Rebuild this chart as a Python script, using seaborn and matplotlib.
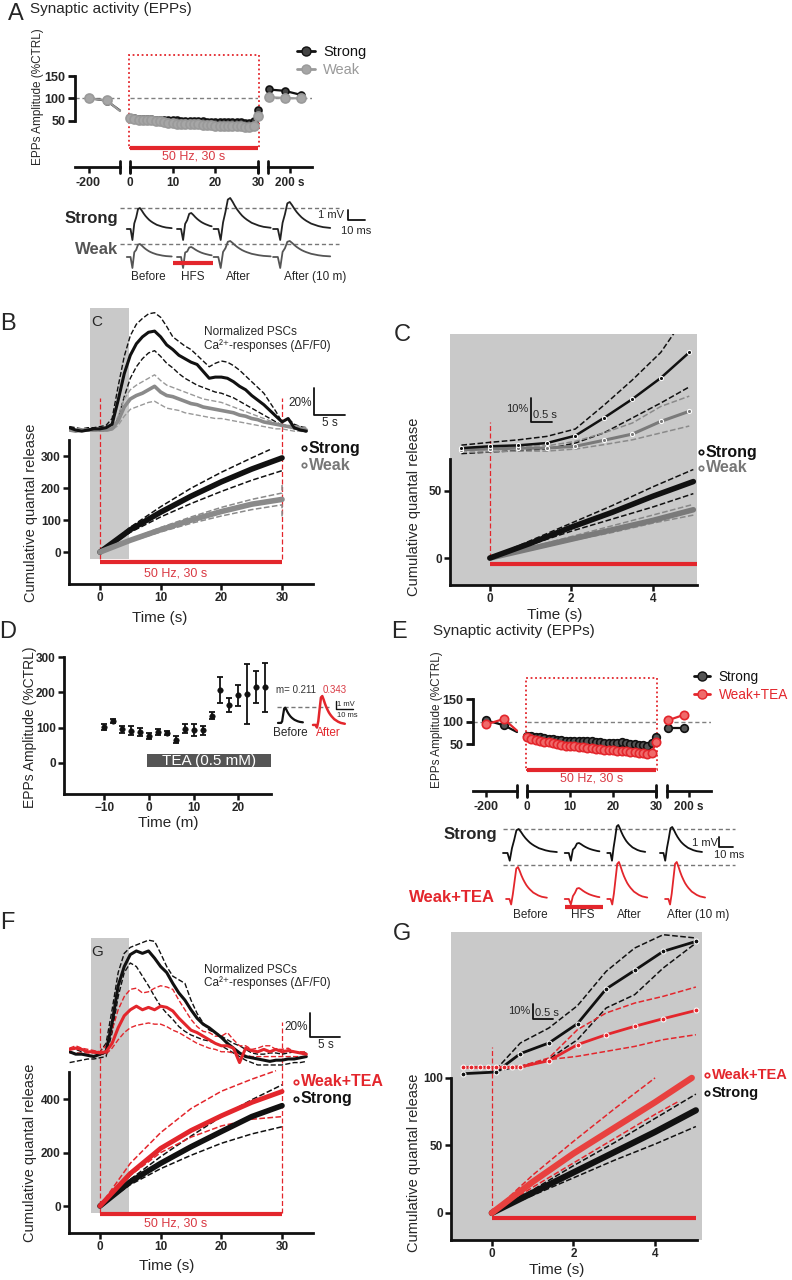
# Recreate multi-panel figure (EPPs / cumulative quantal release)
import matplotlib
matplotlib.use('Agg')
import matplotlib.pyplot as plt
from matplotlib.lines import Line2D
from matplotlib.patches import Rectangle
import seaborn as sns

sns.set_style('ticks')
plt.rcParams['font.family'] = ['Liberation Sans', 'DejaVu Sans']

BLACK = '#111111'
GREY = '#8a8a8a'
RED = '#e3262c'
RED_T = '#d93a44'
BG = '#c9c9c9'

# ---------------- data ----------------
# A / E : EPP amplitude (%CTRL), broken time axis
seg1_t = [-200, -160, -130]
seg2_t = list(range(31))
seg3_t = [152, 188, 225]

a_strong_1 = [101, 95, 73]
a_weak_1 = [100, 96, 72]
a_strong_2 = [57, 56, 55, 55, 54, 54, 53, 53, 52, 52, 51, 51, 50, 50, 50, 50,
              49, 49, 48, 48, 48, 48, 48, 47, 47, 47, 47, 46, 46, 50, 75]
a_weak_2 = [57, 55, 53, 53, 52, 51, 50, 49, 47, 46, 45, 44, 43, 43, 42, 42,
            42, 41, 40, 40, 39, 39, 39, 38, 38, 38, 38, 37, 37, 38, 60]
a_strong_3 = [120, 117, 108]
a_weak_3 = [103, 101, 100]

e_strong_1 = [103, 92, 77]
e_tea_1 = [94, 106, 80]
e_strong_2 = [68, 68, 67, 65, 63, 62, 61, 60, 59, 58, 58, 57, 57, 56, 56, 56,
              55, 54, 53, 53, 53, 53, 54, 52, 51, 50, 49, 48, 47, 52, 67]
e_tea_2 = [66, 62, 60, 57, 55, 54, 52, 50, 49, 47, 46, 45, 44, 43, 42, 41,
           40, 39, 38, 37, 36, 35, 34, 34, 33, 32, 31, 30, 29, 30, 55]
e_strong_3 = [85, 85]
e_tea_3 = [103, 115]

# EPP example traces (mV), normalised shape + stimulus artefact
epp_shape = [0, 0, 0, 0, 0.1, 0.55, 0.95, 1.0, 0.88, 0.74, 0.62, 0.52, 0.43,
             0.36, 0.3, 0.25, 0.2, 0.17, 0.14, 0.11, 0.09, 0.07, 0.06, 0.05, 0.04]
stim_artifact = [0, 0, 0, -1.1, 0.35, 0, 0, 0, 0, 0, 0, 0, 0,
                 0, 0, 0, 0, 0, 0, 0, 0, 0, 0, 0, 0]
trace_labels = ['Before', 'HFS', 'After', 'After (10 m)']
a_strong_amp = [2.1, 1.6, 3.1, 2.7]
a_weak_amp = [1.3, 1.0, 1.6, 1.6]
e_strong_amp = [2.4, 1.0, 2.8, 2.6]
e_tea_amp = [3.2, 1.1, 3.7, 3.7]
d_trace_amp = [1.9, 3.6]

# B : normalized PSC traces (%), t = -5..34 s
b_t = list(range(-5, 35))
b_strong = [2, 0, -1, 0, 1, 1, 2, 5, 26, 49, 65, 75, 81, 85, 86, 81, 74, 70, 65, 62,
            59, 57, 51, 45, 46, 46, 45, 42, 38, 35, 30, 26, 22, 17, 12, 7, 10, 2, 0, -1]
b_strong_up = [3, 2, 1, 2, 2, 3, 4, 10, 38, 64, 82, 92, 97, 101, 102, 98, 90, 81, 77, 73,
               70, 65, 60, 55, 58, 60, 59, 56, 52, 47, 42, 37, 32, 24, 16, 7, 10, 5, 3, 2]
b_strong_lo = [2, 1, 0, -1, 0, 1, 1, 1, 10, 29, 45, 55, 62, 67, 69, 64, 58, 54, 49, 45,
               42, 39, 37, 35, 33, 32, 30, 28, 25, 22, 19, 16, 13, 10, 7, 4, 3, 1, 0, -1]
b_weak = [0, -1, 0, 0, 0, 0, 0, 1, 8, 20, 27, 30, 32, 35, 38, 33, 30, 29, 27, 25,
          23, 22, 20, 19, 18, 17, 16, 15, 13, 12, 10, 9, 7, 6, 5, 4, 3, 2, 1, 0]
b_weak_up = [1, 1, 1, 1, 1, 1, 1, 2, 12, 27, 35, 39, 42, 45, 48, 43, 39, 37, 35, 33,
             31, 29, 27, 26, 25, 24, 22, 20, 18, 16, 14, 12, 10, 8, 6, 5, 4, 4, 3, 2]
b_weak_lo = [-1, -1, -1, -1, -1, -1, -1, 0, 4, 12, 18, 20, 22, 24, 25, 22, 19, 18, 17, 15,
             14, 13, 12, 11, 10, 10, 9, 8, 7, 6, 5, 4, 3, 2, 1, 1, 0, -1, -1, -2]

# B : cumulative quantal release
cum_t = [0, 5, 10, 15, 20, 25, 30]
b_cum_strong = [0, 70, 125, 175, 220, 260, 295]
b_cum_strong_up_t = [0, 5, 10, 15, 20, 25, 28]
b_cum_strong_up = [0, 78, 142, 200, 250, 295, 321]
b_cum_strong_lo = [0, 62, 110, 152, 190, 225, 255]
b_cum_weak = [0, 37, 70, 100, 127, 150, 165]
b_cum_weak_ci_t = [0, 5, 10, 15, 20, 25, 30, 30]
b_cum_weak_up = [0, 40, 77, 110, 140, 165, 185, 210]
b_cum_weak_lo = [0, 33, 63, 90, 113, 133, 148, 105]

# C : zoom 0-5 s
c_trace_t = [-0.7, 0, 0.7, 1.4, 2.1, 2.8, 3.5, 4.2, 4.9]
c_strong = [0.4, 1.2, 1.6, 2.6, 5.8, 13.5, 21.7, 30.9, 42]
c_strong_up = [1.7, 2.9, 4, 5.5, 8.7, 19, 30, 42, 60]
c_strong_lo = [-2, -1.3, -0.7, 0, 2.6, 7, 13.5, 20, 27]
c_weak = [-0.3, 0, 0.4, 0.4, 1.2, 3.8, 6.5, 12, 16.4]
c_weak_up = [0.4, 0.9, 1.2, 1.4, 3.3, 7, 11.3, 18.5, 23]
c_weak_lo = [-1.4, -1.2, -0.9, -0.9, 0, 1.9, 4, 7, 10]
c_cum_t = [0, 1, 2, 3, 4, 5]
c_cum_strong = [0, 11, 23, 34, 46, 57]
c_cum_strong_up = [0, 13, 26, 39, 53, 66]
c_cum_strong_lo = [0, 10, 20, 29, 38, 48]
c_cum_weak = [0, 7, 14, 21, 28, 36]
c_cum_weak_up = [0, 8, 16, 24, 32, 40]
c_cum_weak_lo = [0, 6, 13, 19, 26, 32]

# D : TEA time course
d_t = [-10, -8, -6, -4, -2, 0, 2, 4, 6, 8, 10, 12, 14, 16, 18, 20, 22, 24, 26]
d_mean = [102, 119, 95, 91, 88, 76, 88, 84, 66, 97, 93, 93, 134, 207, 164, 191, 196, 216, 214]
d_err = [9, 5, 10, 13, 12, 9, 8, 6, 9, 13, 16, 13, 10, 37, 20, 31, 85, 45, 70]

# F : normalized PSC traces (%), t = -5..34 s
f_strong = [1, -1, -1, -2, -3, -1, 1, 25, 56, 72, 82, 85, 83, 85, 79, 72, 67, 58, 50, 44,
            36, 29, 24, 21, 17, 13, 8, 4, 0, -3, -4, -5, -6, -7, -6, -6, -5, -5, -4, -3]
f_strong_up = [4, 3, 1, 1, 1, 1, 8, 36, 67, 83, 88, 90, 92, 94, 93, 83, 72, 64, 61, 58,
               44, 33, 25, 19, 17, 14, 11, 8, 6, 3, 0, -1, -1, 0, 0, -1, 0, 1, 0, 0]
f_strong_lo = [-8, -7, -6, -5, -5, -4, -3, 17, 47, 67, 75, 72, 64, 56, 47, 39, 33, 28, 22, 18,
               15, 13, 11, 10, 8, 6, 3, 0, -3, -6, -8, -10, -10, -10, -10, -10, -9, -8, -8, -7]
f_tea = [3, 4, 3, 1, 1, 0, 1, 8, 21, 31, 36, 39, 36, 38, 36, 39, 38, 35, 29, 24,
         19, 17, 14, 11, 8, 6, 6, 4, -8, 4, 2, 1, 3, 1, 3, 1, 2, 1, 0, -1]
f_tea_up = [4, 6, 4, 3, 2, 1, 6, 19, 36, 47, 53, 54, 50, 51, 54, 56, 55, 53, 44, 36,
            28, 22, 18, 17, 14, 14, 17, 11, 6, 6, 3, 4, 6, 6, 3, 3, 4, 1, 1, 1]
f_tea_lo = [0, 0, 0, 0, 0, -1, -1, 4, 11, 17, 21, 23, 24, 25, 24, 24, 22, 19, 17, 14,
            11, 8, 6, 4, 3, 1, 1, 0, -1, -2, -3, -3, -3, -3, -3, -3, -3, -3, -3, -3]

f_cum_strong = [0, 91, 160, 222, 279, 335, 376]
f_cum_strong_up = [0, 100, 185, 262, 335, 398, 454]
f_cum_strong_lo = [0, 80, 140, 190, 235, 270, 297]
f_cum_tea = [0, 122, 216, 283, 338, 388, 429]
f_cum_tea_up_t = [0, 5, 10, 15, 20, 25, 29]
f_cum_tea_up = [0, 160, 275, 365, 430, 475, 507]
f_cum_tea_lo = [0, 115, 200, 258, 300, 325, 335]

# G : zoom 0-5 s
g_trace_t = [-0.7, 0.1, 0.7, 1.4, 2.1, 2.8, 3.5, 4.2, 5.0]
g_strong = [-3.8, -2.7, 9.6, 16.7, 29.6, 52.7, 65.1, 77.8, 84.4]
g_ci_t = [0.1, 0.7, 1.4, 2.1, 2.8, 3.5, 4.2, 5.0]
g_strong_up = [-1.1, 16.7, 26.7, 41.6, 64.4, 80, 88.9, 86.7]
g_strong_lo = [-2.2, 1.1, 6, 18.9, 40, 48.9, 66.7, 83.3]
g_tea_t = [-0.7, -0.5, -0.3, -0.1, 0.1, 0.3, 0.5, 0.7, 1.4, 2.1, 2.8, 3.5, 4.2, 5.0]
g_tea = [0.4, 0.4, 0.4, 0.4, 0.4, 0.4, 0.5, 0.7, 4.9, 15.6, 22.2, 27.8, 32.9, 38.4]
g_tea_up = [0, 1.1, 6.7, 25.6, 36.7, 43.3, 47.8, 54]
g_tea_lo = [0, 0, 5.6, 7.8, 11.1, 14.4, 18.9, 22.2]
g_cum_t = [0, 1, 2, 3, 4, 5]
g_cum_strong = [0, 15, 30, 45, 60, 76]
g_cum_strong_up = [0, 17, 35, 52, 70, 88]
g_cum_strong_lo = [0, 13, 26, 39, 51, 64]
g_cum_tea_t = [0, 1, 2, 3, 4, 4.9]
g_cum_tea = [0, 23, 44, 63, 82, 100]
g_cum_tea_up_t = [0, 1, 2, 3, 4]
g_cum_tea_up = [0, 28, 53, 77, 100]
g_cum_tea_lo_t = [0, 1, 2, 3, 4, 4.6]
g_cum_tea_lo = [0, 19, 37, 55, 73, 83]

# ---------------- figure helpers ----------------
W, H = 792, 1280
fig = plt.figure(figsize=(7.92, 12.8), dpi=100)


def add_ax(x0, y0, x1, y1):
    return fig.add_axes([x0 / W, 1 - y1 / H, (x1 - x0) / W, (y1 - y0) / H])


def ftext(x, y, s, **kw):
    kw.setdefault('va', 'center')
    fig.text(x / W, 1 - y / H, s, **kw)


def line(ax, x, y, color, lw=1.0, ls='-', **kw):
    sns.lineplot(x=x, y=y, ax=ax, color=color, lw=lw, linestyle=ls,
                 estimator=None, sort=False, legend=False, **kw)


def bold_ticks(ax, size=8.5):
    for lab in ax.get_xticklabels() + ax.get_yticklabels():
        lab.set_fontweight('bold')
        lab.set_fontsize(size)


def style_main(ax):
    ax.patch.set_alpha(0)
    for s in ['top', 'right']:
        ax.spines[s].set_visible(False)
    for s in ['left', 'bottom']:
        ax.spines[s].set_linewidth(2)
        ax.spines[s].set_color(BLACK)
    ax.tick_params(width=1.8, length=4, color=BLACK, pad=2)
    ax.set_xlabel('')
    ax.set_ylabel('')


def draw_traces(ax, starts, base, amps, dts, lens, color, lw=1.3, art=1.0):
    for x0, amp, dt, n in zip(starts, amps, dts, lens):
        xs = [x0 + i * dt for i in range(n)]
        ys = [base + amp * e + art * a for e, a in zip(epp_shape[:n], stim_artifact[:n])]
        line(ax, xs, ys, color, lw=lw)


def circle_legend(x, y, labels, colors, size=11.5, dy=17):
    for i, (lab, col) in enumerate(zip(labels, colors)):
        fig.add_artist(Line2D([(x + 3) / W], [1 - (y + i * dy) / H], marker='o', ms=3.2,
                              mfc='white', mec=col, mew=1.2, ls='none'))
        ftext(x + 8, y + i * dy, lab, color=col, fontsize=size, fontweight='bold')


# ---------------- A / E ----------------
def epp_panel(px, ytop, ybot, ylim, box_lo, s_series, w_series, s_style, w_style, line_cols):
    xlims = [(-230, -130), (0, 30), (150, 250)]
    xt = [[-200], [0, 10, 20, 30], [200]]
    xtl = [['-200'], ['0', '10', '20', '30'], ['200 s']]
    caps = [[-130], [0, 30], [150]]
    axs = []
    for (x0, x1), xl, t, tl, cp in zip(px, xlims, xt, xtl, caps):
        ax = add_ax(x0, ytop, x1, ybot)
        style_main(ax)
        ax.set_xlim(xl)
        ax.set_ylim(ylim)
        ax.spines['left'].set_visible(False)
        ax.set_yticks([])
        ax.set_xticks(t)
        ax.set_xticklabels(tl)
        ax.tick_params(axis='x', length=4, pad=3)
        for c in cp:
            ax.plot([c, c], [-0.05, 0.05], transform=ax.get_xaxis_transform(),
                    color=BLACK, lw=2, clip_on=False)
        ax.axhline(100, color='#808080', lw=1, ls=(0, (3, 2)), zorder=0)
        bold_ticks(ax)
        axs.append(ax)
    a1, a2, a3 = axs
    a1.spines['left'].set_visible(True)
    a1.spines['left'].set_bounds(50, 150)
    a1.set_yticks([50, 100, 150])
    a1.tick_params(axis='y', length=5, width=2)
    bold_ticks(a1, 9)
    # red stimulus box and bar
    a2.add_patch(Rectangle((-0.3, box_lo), 30.6, ylim[1] - box_lo, fill=False,
                           ec=RED, lw=1.3, ls=(0, (1, 1.5)), clip_on=False))
    a2.plot([0, 30], [box_lo, box_lo], color=RED, lw=3, solid_capstyle='butt', clip_on=False)
    a2.text(15, box_lo - 20, '50 Hz, 30 s', color=RED_T, fontsize=9, ha='center', va='center')
    # data
    ts = [seg1_t, seg2_t, seg3_t]
    for ser, st, lc in zip([s_series, w_series], [s_style, w_style], line_cols):
        for ax, t, y, k in zip(axs, ts, ser, range(3)):
            mk = [0, 1] if k == 0 else None
            line(ax, t[:len(y)], y, lc, lw=1.6, marker='o', markevery=mk,
                 ms=st['ms'], mfc=st['mfc'], mec=st['mec'], mew=1.2, clip_on=False)
    return axs


def epp_legend(x, y, labels, styles, size=10.5):
    handles = [Line2D([], [], color=c, lw=2, marker='o', ms=6.5, mfc=f, mec=c) for c, f in styles]
    fig.legend(handles=handles, labels=labels, loc='upper left',
               bbox_to_anchor=(x / W, 1 - y / H), frameon=False, fontsize=size,
               handlelength=1.2, handletextpad=0.6, labelspacing=0.3, borderpad=0,
               borderaxespad=0, labelcolor=[c for c, f in styles])


# Panel A
ftext(8, 14, 'A', fontsize=17)
ftext(30, 9, 'Synaptic activity (EPPs)', fontsize=11)
epp_panel([(75, 120), (130, 258), (268, 312)], 55, 167, (-53, 197), -10,
          [a_strong_1, a_strong_2, a_strong_3], [a_weak_1, a_weak_2, a_weak_3],
          dict(ms=5, mfc='#444444', mec=BLACK), dict(ms=6.5, mfc='#a6a6a6', mec='#9a9a9a'),
          [BLACK, '#9a9a9a'])
ftext(38, 97, 'EPPs Amplitude (%CTRL)', rotation=90, fontsize=8.5, ha='center')
epp_legend(297, 45, ['Strong', 'Weak'], [(BLACK, '#444444'), ('#9a9a9a', '#a6a6a6')])

# A traces
axAt = add_ax(120, 195, 370, 285)
axAt.set_xlim(0, 147)
axAt.set_ylim(0, 9)
axAt.axis('off')
axAt.plot([0, 129], [7.7, 7.7], color='#777777', lw=1, ls=(0, (3, 2)))
axAt.plot([0, 129], [4.1, 4.1], color='#777777', lw=1, ls=(0, (3, 2)))
draw_traces(axAt, [4, 33.5, 55, 90], 5.6, a_strong_amp, [1.1, 1.2, 1.4, 1.4], [25, 18, 25, 25], '#222222')
draw_traces(axAt, [4, 33.5, 55, 90], 2.8, a_weak_amp, [1.1, 1.2, 1.4, 1.4], [25, 18, 25, 25], '#555555')
axAt.plot([134, 134, 144], [7.5, 6.5, 6.5], color=BLACK, lw=1.3)
axAt.text(132, 7.0, '1 mV', fontsize=8, ha='right', va='center')
axAt.text(139, 5.4, '10 ms', fontsize=8, ha='center', va='center')
axAt.plot([31, 54.7], [2.2, 2.2], color=RED, lw=3, solid_capstyle='butt')
for xx, lab in zip([16.5, 43, 69.4, 114.7], trace_labels):
    axAt.text(xx, 0.8, lab, fontsize=8.5, ha='center', va='center')
ftext(118, 218, 'Strong', fontsize=12, fontweight='bold', ha='right')
ftext(118, 250, 'Weak', fontsize=12, fontweight='bold', ha='right', color='#555555')

# ---------------- B ----------------
def cum_panel(rect, xlim, ylim, spine_top, xticks, yticks, twin_ylim):
    ax = add_ax(*rect)
    style_main(ax)
    ax.set_xlim(xlim)
    ax.set_ylim(ylim)
    ax.spines['left'].set_bounds(ylim[0], spine_top)
    ax.set_xticks(xticks)
    ax.set_yticks(yticks)
    bold_ticks(ax, 8.5)
    tw = ax.twinx()
    tw.set_ylim(twin_ylim)
    tw.axis('off')
    return ax, tw


axB, twB = cum_panel((69, 305, 313, 584), (-5.1, 35.1), (-100, 774), 350,
                     [0, 10, 20, 30], [0, 100, 200, 300], (-133.9, 108.7))
axB.fill_between([-1.6, 4.8], -22, 765, color=BG, lw=0, zorder=0)
for xv in [0, 30]:
    axB.plot([xv, xv], [-22, 483], color=RED, lw=0.9, ls=(0, (4, 2)), zorder=1)
axB.plot([0, 30], [-31, -31], color=RED, lw=3, solid_capstyle='butt')
axB.text(12.5, -66, '50 Hz, 30 s', color=RED_T, fontsize=9, ha='center', va='center')
line(axB, b_cum_strong_up_t, b_cum_strong_up, BLACK, lw=1.1, ls='--')
line(axB, cum_t, b_cum_strong_lo, BLACK, lw=1.1, ls='--')
line(axB, cum_t, b_cum_strong, BLACK, lw=4)
line(axB, b_cum_weak_ci_t, b_cum_weak_up, GREY, lw=1.1, ls='--')
line(axB, b_cum_weak_ci_t, b_cum_weak_lo, GREY, lw=1.1, ls='--')
line(axB, cum_t, b_cum_weak, GREY, lw=4)
line(twB, b_t, b_strong_up, BLACK, lw=1.0, ls='--')
line(twB, b_t, b_strong_lo, BLACK, lw=1.0, ls='--')
line(twB, b_t, b_weak_up, '#999999', lw=1.0, ls='--')
line(twB, b_t, b_weak_lo, '#999999', lw=1.0, ls='--')
line(twB, b_t, b_weak, GREY, lw=2.6)
line(twB, b_t, b_strong, BLACK, lw=2.2)
twB.plot([35.3, 35.3, 40.3], [36.5, 13, 13], color=BLACK, lw=1.3, clip_on=False)
twB.text(34.9, 23.5, '20%', fontsize=8.5, ha='right', va='center')
twB.text(37.8, 6, '5 s', fontsize=8.5, ha='center', va='center')
ftext(8, 324, 'B', fontsize=17, ha='center')
ftext(97, 322, 'C', fontsize=11, ha='center')
ftext(204, 332, 'Normalized PSCs', fontsize=8.5)
ftext(204, 346, 'Ca²⁺-responses (ΔF/F0)', fontsize=8.5)
ftext(31, 513, 'Cumulative quantal release', rotation=90, fontsize=10.5, ha='center')
ftext(160, 618, 'Time (s)', fontsize=11, ha='center')
circle_legend(301, 448, ['Strong', 'Weak'], [BLACK, '#777777'], dy=17)

# ---------------- C ----------------
axC, twC = cum_panel((450, 334, 697, 585), (-0.98, 5.09), (-20.1, 167), 73.9,
                     [0, 2, 4], [0, 50], (-59.1, 50))
axC.set_facecolor(BG)
axC.patch.set_alpha(1)
axC.plot([0, 0], [0, 101.5], color=RED, lw=0.9, ls=(0, (4, 2)))
axC.plot([0, 5.09], [-4.5, -4.5], color=RED, lw=3, solid_capstyle='butt')
line(axC, c_cum_t, c_cum_strong_up, BLACK, lw=1.1, ls='--')
line(axC, c_cum_t, c_cum_strong_lo, BLACK, lw=1.1, ls='--')
line(axC, c_cum_t, c_cum_weak_up, '#888888', lw=1.1, ls='--')
line(axC, c_cum_t, c_cum_weak_lo, '#888888', lw=1.1, ls='--')
line(axC, c_cum_t, c_cum_weak, '#7a7a7a', lw=4)
line(axC, c_cum_t, c_cum_strong, BLACK, lw=4)
line(twC, c_trace_t, c_strong_up, BLACK, lw=1.1, ls='--')
line(twC, c_trace_t, c_strong_lo, BLACK, lw=1.1, ls='--')
line(twC, c_trace_t, c_weak_up, '#8a8a8a', lw=1.1, ls='--')
line(twC, c_trace_t, c_weak_lo, '#8a8a8a', lw=1.1, ls='--')
line(twC, c_trace_t, c_weak, '#7a7a7a', lw=2.2, marker='o', ms=3)
line(twC, c_trace_t, c_strong, BLACK, lw=1.8, marker='o', ms=3)
twC.plot([1.0, 1.0, 1.52], [22, 11.7, 11.7], color=BLACK, lw=1.3)
twC.text(0.95, 17.4, '10%', fontsize=8, ha='right', va='center')
twC.text(1.05, 12.8, '0.5 s', fontsize=8, ha='left', va='bottom')
ftext(402, 335, 'C', fontsize=17, ha='center')
ftext(414, 507, 'Cumulative quantal release', rotation=90, fontsize=10.5, ha='center')
ftext(555, 615, 'Time (s)', fontsize=11, ha='center')
circle_legend(698, 452, ['Strong', 'Weak'], [BLACK, '#777777'], dy=16)

# ---------------- D ----------------
axD = add_ax(64, 657, 271, 794)
style_main(axD)
axD.set_xlim(-19, 27.3)
axD.set_ylim(-88, 300)
axD.set_xticks([-10, 0, 10, 20])
axD.set_yticks([0, 100, 200, 300])
bold_ticks(axD, 8.5)
axD.add_patch(Rectangle((-0.5, -12), 27.8, 37, color='#555555', lw=0, clip_on=False))
axD.text(13.4, 6.5, 'TEA (0.5 mM)', color='white', fontsize=11, ha='center', va='center')
axD.errorbar(d_t, d_mean, yerr=d_err, fmt='none', ecolor=BLACK, elinewidth=1.3, capsize=2,
             capthick=1.3, clip_on=False)
sns.scatterplot(x=d_t, y=d_mean, ax=axD, color=BLACK, s=16, edgecolor=BLACK, clip_on=False, legend=False)
axD.set_xlabel('')
axD.set_ylabel('')
ftext(8, 632, 'D', fontsize=17, ha='center')
ftext(30, 727, 'EPPs Amplitude (%CTRL)', rotation=90, fontsize=10, ha='center')
ftext(168, 823, 'Time (m)', fontsize=11, ha='center')

axDi = add_ax(270, 680, 365, 745)
axDi.set_xlim(0, 55.9)
axDi.set_ylim(0, 8.1)
axDi.axis('off')
axDi.plot([4, 35], [4.75, 4.75], color='#777777', lw=1, ls=(0, (3, 2)))
draw_traces(axDi, [4.7], 2.75, d_trace_amp[:1], [0.61], [25], BLACK, lw=1.6, art=0)
draw_traces(axDi, [25.3], 2.5, d_trace_amp[1:], [0.78], [25], RED, lw=1.8, art=0.3)
axDi.plot([38.8, 38.8, 48.8], [5.5, 4.5, 4.5], color=BLACK, lw=1)
axDi.text(39.6, 5.0, '1 mV', fontsize=5.5, ha='left', va='center')
axDi.text(39.3, 3.7, '10 ms', fontsize=5.5, ha='left', va='center')
ftext(276, 690, 'm= 0.211', fontsize=7, color='#333333')
ftext(323, 690, '0.343', fontsize=7, color=RED_T)
ftext(290, 733, 'Before', fontsize=8.5, ha='center')
ftext(328, 733, 'After', fontsize=8.5, ha='center', color=RED)

# ---------------- E ----------------
ftext(399, 632, 'E', fontsize=17, ha='center')
ftext(433, 631, 'Synaptic activity (EPPs)', fontsize=11)
epp_panel([(473, 517), (527, 656), (667, 711)], 678, 791, (-54, 197), -7,
          [e_strong_1, e_strong_2, e_strong_3], [e_tea_1, e_tea_2, e_tea_3],
          dict(ms=5.5, mfc='#555555', mec=BLACK), dict(ms=6, mfc='#f06a6a', mec=RED),
          [BLACK, RED])
ftext(437, 720, 'EPPs Amplitude (%CTRL)', rotation=90, fontsize=8.5, ha='center')
epp_legend(694, 670, ['Strong', 'Weak+TEA'], [(BLACK, '#555555'), (RED, '#f06a6a')], size=9.8)

axEt = add_ax(495, 815, 745, 925)
axEt.set_xlim(0, 147)
axEt.set_ylim(0, 11)
axEt.axis('off')
axEt.plot([4.7, 141], [9.6, 9.6], color='#777777', lw=1, ls=(0, (3, 2)))
axEt.plot([4.7, 141], [6.0, 6.0], color='#777777', lw=1, ls=(0, (3, 2)))
draw_traces(axEt, [4.7, 41, 66, 97], 7.2, e_strong_amp, [1.32, 1.2, 0.93, 1.03], [25, 18, 25, 25],
            BLACK, art=0.7)
draw_traces(axEt, [6.5, 41, 66, 100], 2.6, e_tea_amp, [1.0, 1.2, 0.98, 0.98], [25, 18, 25, 25],
            RED, art=0.5)
axEt.plot([132, 132, 140], [8.8, 7.8, 7.8], color=BLACK, lw=1.3)
axEt.text(131, 8.2, '1 mV', fontsize=8, ha='right', va='center')
axEt.text(137.6, 7.0, '10 ms', fontsize=8, ha='center', va='center')
axEt.plot([41, 63.5], [1.8, 1.8], color=RED, lw=3, solid_capstyle='butt')
for xx, lab in zip([20.6, 51.8, 78.8, 119.4], trace_labels):
    axEt.text(xx, 1.0, lab, fontsize=8.5, ha='center', va='center')
ftext(497, 835, 'Strong', fontsize=12, fontweight='bold', ha='right')
ftext(495, 897, 'Weak+TEA', fontsize=12, fontweight='bold', ha='right', color=RED)

# ---------------- F ----------------
axF, twF = cum_panel((69, 938, 313, 1233), (-5.1, 35.1), (-101, 1004), 502,
                     [0, 10, 20, 30], [0, 200, 400], (-150, 95.8))
axF.fill_between([-1.5, 4.8], -26, 1004, color=BG, lw=0, zorder=0)
axF.plot([0, 0], [-26, 689], color=RED, lw=0.9, ls=(0, (4, 2)), zorder=1)
axF.plot([30, 30], [-26, 689], color=RED, lw=0.9, ls=(0, (4, 2)), zorder=1)
axF.plot([0, 30], [-30, -30], color=RED, lw=3, solid_capstyle='butt')
axF.text(12.5, -64, '50 Hz, 30 s', color=RED_T, fontsize=9, ha='center', va='center')
line(axF, cum_t, f_cum_strong_up, BLACK, lw=1.1, ls='--')
line(axF, cum_t, f_cum_strong_lo, BLACK, lw=1.1, ls='--')
line(axF, f_cum_tea_up_t, f_cum_tea_up, RED, lw=1.1, ls='--')
line(axF, cum_t, f_cum_tea_lo, RED, lw=1.1, ls='--')
line(axF, cum_t, f_cum_strong, BLACK, lw=4)
line(axF, cum_t, f_cum_tea, RED, lw=3.5)
line(twF, b_t, f_strong_up, BLACK, lw=1.0, ls='--')
line(twF, b_t, f_strong_lo, BLACK, lw=1.0, ls='--')
line(twF, b_t, f_tea_up, RED, lw=1.0, ls='--')
line(twF, b_t, f_tea_lo, RED, lw=1.0, ls='--')
line(twF, b_t, f_strong, BLACK, lw=2.2)
line(twF, b_t, f_tea, RED, lw=2.2)
twF.plot([34.6, 34.6, 39.6], [33.3, 13.3, 13.3], color=BLACK, lw=1.3, clip_on=False)
twF.text(34.2, 21.7, '20%', fontsize=8.5, ha='right', va='center')
twF.text(37.2, 6.7, '5 s', fontsize=8.5, ha='center', va='center')
ftext(7, 923, 'F', fontsize=17, ha='center')
ftext(97, 952, 'G', fontsize=11, ha='center')
ftext(204, 970, 'Normalized PSCs', fontsize=8.5)
ftext(204, 983, 'Ca²⁺-responses (ΔF/F0)', fontsize=8.5)
ftext(30, 1153, 'Cumulative quantal release', rotation=90, fontsize=10.5, ha='center')
ftext(167, 1266, 'Time (s)', fontsize=11, ha='center')
circle_legend(293, 1082, ['Weak+TEA', 'Strong'], [RED, BLACK], dy=17)

# ---------------- G ----------------
axG, twG = cum_panel((451, 932, 702, 1240), (-1.0, 5.15), (-20, 208), 100,
                     [0, 2, 4], [0, 50, 100], (-114.7, 90.7))
axG.spines['bottom'].set_bounds(-1.0, 5.03)
axG.set_facecolor(BG)
axG.patch.set_alpha(1)
axG.plot([0, 0], [0, 123], color=RED, lw=0.9, ls=(0, (4, 2)))
axG.plot([0, 5.0], [-4, -4], color=RED, lw=3, solid_capstyle='butt')
line(axG, g_cum_t, g_cum_strong_up, BLACK, lw=1.1, ls='--')
line(axG, g_cum_t, g_cum_strong_lo, BLACK, lw=1.1, ls='--')
line(axG, g_cum_tea_up_t, g_cum_tea_up, RED, lw=1.1, ls='--')
line(axG, g_cum_tea_lo_t, g_cum_tea_lo, RED, lw=1.1, ls='--')
line(axG, g_cum_t, g_cum_strong, BLACK, lw=4.5)
line(axG, g_cum_tea_t, g_cum_tea, '#e8413f', lw=4.5)
line(twG, g_ci_t, g_strong_up, BLACK, lw=1.1, ls='--')
line(twG, g_ci_t, g_strong_lo, BLACK, lw=1.1, ls='--')
line(twG, g_ci_t, g_tea_up, RED, lw=1.1, ls='--')
line(twG, g_ci_t, g_tea_lo, RED, lw=1.1, ls='--')
line(twG, g_trace_t, g_strong, BLACK, lw=2.0, marker='o', ms=3.5)
line(twG, g_tea_t, g_tea, RED, lw=2.0, marker='o', ms=3.5)
twG.plot([1.0, 1.0, 1.5], [42.7, 32.7, 32.7], color=BLACK, lw=1.3)
twG.text(0.95, 38, '10%', fontsize=8, ha='right', va='center')
twG.text(1.05, 33.5, '0.5 s', fontsize=8, ha='left', va='bottom')
ftext(402, 934, 'G', fontsize=17, ha='center')
ftext(414, 1163, 'Cumulative quantal release', rotation=90, fontsize=10.5, ha='center')
ftext(557, 1270, 'Time (s)', fontsize=11, ha='center')
circle_legend(704, 1075, ['Weak+TEA', 'Strong'], [RED, BLACK], size=10.5, dy=18)

fig.savefig('out.png', dpi=100)
